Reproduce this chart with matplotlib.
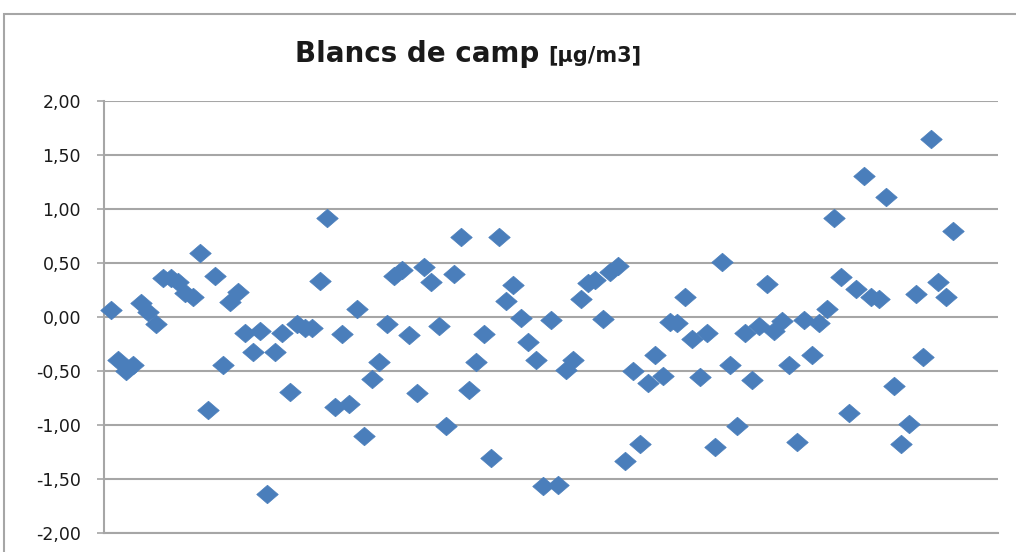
import matplotlib
matplotlib.use("Agg")
import matplotlib.pyplot as plt
from matplotlib.path import Path
from matplotlib.patches import Rectangle
from matplotlib.ticker import FixedLocator, FuncFormatter

# ---- data ----
title_main = "Blancs de camp"
title_unit = "[µg/m3]"
y_ticks = [-2.0, -1.5, -1.0, -0.5, 0.0, 0.5, 1.0, 1.5, 2.0]
values = [0.06, -0.40, -0.50, -0.45, 0.13, 0.04, -0.07, 0.36, 0.36, 0.32,
          0.22, 0.18, 0.59, -0.86, 0.38, -0.45, 0.14, 0.23, -0.15, -0.33,
          -0.13, -1.64, -0.33, -0.15, -0.70, -0.07, -0.10, -0.10, 0.33, 0.91,
          -0.84, -0.16, -0.81, 0.07, -1.10, -0.58, -0.42, -0.07, 0.38, 0.43,
          -0.17, -0.71, 0.46, 0.32, -0.09, -1.01, 0.40, 0.74, -0.68, -0.42,
          -0.16, -1.31, 0.74, 0.15, 0.29, -0.01, -0.23, -0.40, -1.57, -0.03,
          -1.56, -0.49, -0.40, 0.16, 0.31, 0.34, -0.02, 0.41, 0.47, -1.34,
          -0.50, -1.18, -0.61, -0.35, -0.55, -0.05, -0.06, 0.18, -0.21, -0.56,
          -0.15, -1.21, 0.51, -0.45, -1.01, -0.15, -0.59, -0.09, 0.30, -0.13,
          -0.04, -0.45, -1.16, -0.03, -0.35, -0.06, 0.07, 0.91, 0.37, -0.89,
          0.26, 1.30, 0.18, 0.16, 1.11, -0.64, -1.18, -0.99, 0.21, -0.37,
          1.65, 0.32, 0.18, 0.79]
x_index = list(range(1, len(values) + 1))

W, H, DPI = 1016, 552, 100
fig = plt.figure(figsize=(W / DPI, H / DPI), dpi=DPI)
fig.patch.set_facecolor("white")

# outer chart border (cut off at right/bottom in reference)
fig.patches.append(Rectangle((4 / W, -0.05), 1.1, 1 - 14 / H + 0.05,
                             transform=fig.transFigure, fill=False,
                             edgecolor="#A6A6A6", linewidth=1.5))

left, right, top, bottom = 103.5, 998, 100.7, 532.7
ax = fig.add_axes([left / W, 1 - bottom / H, (right - left) / W, (bottom - top) / H])

diamond = Path([(-1.0, 0.0), (0.0, 0.86), (1.0, 0.0), (0.0, -0.86), (-1.0, 0.0)],
               [Path.MOVETO, Path.LINETO, Path.LINETO, Path.LINETO, Path.CLOSEPOLY])
ax.plot(x_index, values, linestyle="none", marker=diamond, markersize=15.5,
        markerfacecolor="#4A7EBB", markeredgecolor="#4A7EBB", markeredgewidth=0.5,
        zorder=3, clip_on=False)

ax.set_xlim(0, 120)
ax.set_ylim(-2.0, 2.0)
ax.yaxis.set_major_locator(FixedLocator(y_ticks))
ax.yaxis.set_major_formatter(FuncFormatter(lambda v, p: f"{v:.2f}".replace(".", ",")))
ax.set_xticks([])
ax.grid(axis="y", color="#A6A6A6", linewidth=1.5, zorder=0)
for s in ["top", "right"]:
    ax.spines[s].set_visible(False)
ax.spines["bottom"].set_color("#A6A6A6")
ax.spines["bottom"].set_linewidth(1.5)
ax.spines["left"].set_color("#A6A6A6")
ax.spines["left"].set_linewidth(1.5)
ax.tick_params(axis="y", direction="out", length=5.2, width=1.2, color="#A6A6A6",
               pad=11, labelsize=12.5, labelcolor="#1a1a1a")
for lab in ax.get_yticklabels():
    lab.set_fontfamily("DejaVu Sans")

# title: main part + smaller unit part
t1 = fig.text(295 / W, 1 - 62 / H, title_main, fontsize=20, fontweight="bold",
              fontfamily="DejaVu Sans", color="#1a1a1a", ha="left", va="baseline")
fig.canvas.draw()
bb = t1.get_window_extent(renderer=fig.canvas.get_renderer())
fig.text((bb.x1 + 9) / W, 1 - 62 / H, title_unit, fontsize=15, fontweight="bold",
         fontfamily="DejaVu Sans", color="#1a1a1a", ha="left", va="baseline")

fig.savefig("out.png", dpi=DPI, facecolor="white")
